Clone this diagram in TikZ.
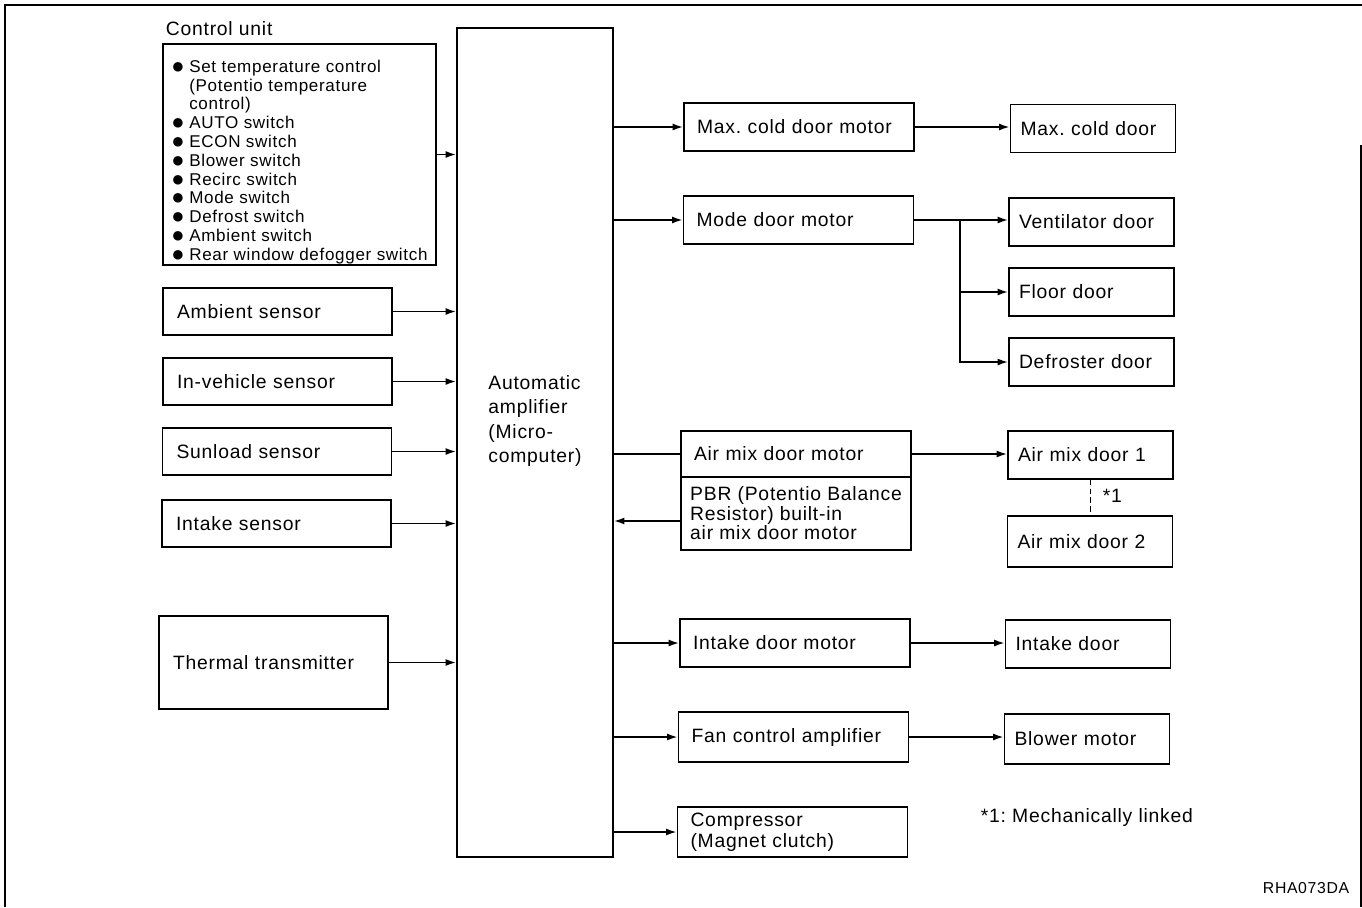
\documentclass[tikz,border=0pt]{standalone}
\usepackage{fontspec}
\setmainfont{Liberation Sans}[LetterSpace=4]
\usetikzlibrary{arrows.meta}

\frenchspacing
\newcommand{\vineta}{\makebox[1.05em][l]{\raisebox{-0.1ex}[0pt][0pt]{\fontsize{12.5}{12.5}\selectfont ●}}}

\begin{document}
\begin{tikzpicture}[x=0.02cm,y=-0.02cm,line width=1pt,
    every node/.style={font=\fontsize{11}{11.5}\selectfont}]
  % Estilos para cada tipo de caja
  \tikzset{
    sensor_box/.style={draw,minimum height=0.94cm,text width=4.02cm,inner xsep=0.28cm,align=left},
    motor_box/.style={draw,minimum height=0.96cm,text width=4.08cm,inner xsep=0.26cm,align=left},
    door_box/.style={draw,minimum height=0.96cm,text width=2.9cm,inner xsep=0.2cm,align=left},
    rotulo/.style={inner sep=0pt},
    flecha/.style={-{Latex[length=6pt,width=4pt]}}
  }

  % Marco
  \useasboundingbox (0,0) rectangle (1362,907);
  \draw (1362,5) -- (5,5) -- (5,907);
  \draw (1361,145) -- (1361,907);

  % Unidad de control
  \node[rotulo,anchor=west] (cutit) at (165,29) {Control unit};
  \node[draw,minimum width=5.46cm,minimum height=4.42cm,inner ysep=0pt,align=left,
        font=\fontsize{9.7}{10.7}\selectfont] (cu) at (299.5,154.5) {%
    \rule{0pt}{15.5pt}\vineta Set temperature control\\
    \hspace*{1.05em}(Potentio temperature\\
    \hspace*{1.05em}control)\\
    \vineta AUTO switch\\
    \vineta ECON switch\\
    \vineta Blower switch\\
    \vineta Recirc switch\\
    \vineta Mode switch\\
    \vineta Defrost switch\\
    \vineta Ambient switch\\
    \vineta Rear window defogger switch};

  % Sensores
  \node[sensor_box] (amb) at (277.5,311.5) {Ambient sensor};
  \node[sensor_box] (inv) at (277.5,381.5) {In-vehicle sensor};
  \node[sensor_box] (sun) at (277,451.5) {Sunload sensor};
  \node[sensor_box] (ink) at (276.5,523.5) {Intake sensor};
  \node[sensor_box,minimum height=1.86cm] (ther) at (273.5,662.5) {Thermal transmitter};

  % Amplificador automatico
  \node[draw,minimum width=3.12cm,minimum height=16.58cm] (amp) at (535,442.5) {};
  \node[align=left,font=\fontsize{11}{14}\selectfont] (amptxt) at (535,421)
    {Automatic\\amplifier\\(Micro-\\computer)};

  % Motores y actuadores
  \node[motor_box] (mcm) at (799,127) {Max. cold door motor};
  \node[motor_box] (mdm) at (798.5,220) {Mode door motor};
  \node[motor_box,minimum height=0.92cm] (amm) at (796,454) {Air mix door motor};
  \node[draw,minimum width=4.6cm,minimum height=1.46cm,align=left,
        font=\fontsize{11}{11.1}\selectfont] (pbr) at (796,513.5)
    {PBR (Potentio Balance\\Resistor) built-in\\air mix door motor};
  \node[motor_box] (idm) at (795,643) {Intake door motor};
  \node[motor_box,minimum height=1cm] (fca) at (793.5,737) {Fan control amplifier};
  \node[motor_box,minimum height=1cm,font=\fontsize{11}{12}\selectfont] (comp) at (792.5,832)
    {Compressor\\(Magnet clutch)};

  % Puertas
  \node[door_box] (mcd) at (1093,128.5) {Max. cold door};
  \node[door_box] (vent) at (1091.5,222) {Ventilator door};
  \node[door_box] (floor) at (1091.5,292) {Floor door};
  \node[door_box] (defr) at (1091.5,362) {Defroster door};
  \node[door_box] (amd1) at (1090.5,455) {Air mix door 1};
  \node[door_box,minimum height=1.02cm] (amd2) at (1090,541.5) {Air mix door 2};
  \node[door_box] (intk) at (1088,644) {Intake door};
  \node[door_box,minimum height=1cm] (blow) at (1087,739) {Blower motor};

  % Entradas al amplificador
  \foreach \s in {cu,amb,inv,sun,ink,ther}
    \draw[flecha] (\s.east) -- (\s.east -| amp.west);

  % Salidas del amplificador
  \foreach \m in {mcm,mdm,idm,fca,comp}
    \draw[flecha] (amp.east |- \m.west) -- (\m.west);
  \draw (amp.east |- amm.west) -- (amm.west);
  \draw[flecha] ([yshift=-0.15cm]pbr.west) -- ([yshift=-0.15cm]pbr.west -| amp.east);

  % Motores a puertas
  \foreach \from/\to in {mcm/mcd,mdm/vent,amm/amd1,idm/intk,fca/blow}
    \draw[flecha] (\from.east) -- (\from.east -| \to.west);
  \coordinate (rama) at (960,220);
  \draw[flecha] (rama |- floor.west) -- (floor.west);
  \draw[flecha] (rama) |- (defr.west);

  % Enlace mecanico
  \draw[line width=0.7pt,dash pattern=on 3pt off 2pt] (amd1.south) -- (amd1.south |- amd2.north);
  \node[rotulo,anchor=west] (enl) at (1102,496) {*1};
  \node[rotulo,anchor=west] (nota) at (980,817) {*1: Mechanically linked};
  \node[rotulo,anchor=east,font=\fontsize{9}{10}\selectfont] (ref) at (1350,888) {RHA073DA};
\end{tikzpicture}
\end{document}
